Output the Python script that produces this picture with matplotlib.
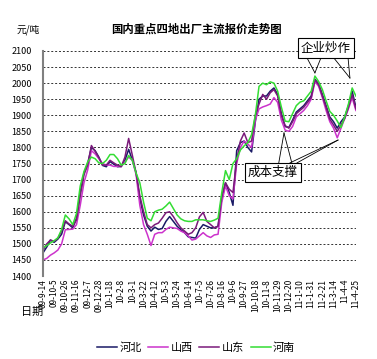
import matplotlib
matplotlib.use("Agg")
import matplotlib.pyplot as plt

plt.rcParams['font.family'] = ['Noto Sans CJK SC', 'DejaVu Sans']

# weekly quotes, 09-9-14 .. 11-4-25 (yuan/ton)
weeks = list(range(85))

hebei = [1472, 1490, 1512, 1505, 1515, 1530, 1569, 1560, 1550, 1580,
         1660, 1720, 1750, 1800, 1790, 1770, 1744, 1740, 1756, 1748,
         1740, 1741, 1760, 1794, 1760, 1722, 1640, 1590, 1555, 1540,
         1552, 1545, 1548, 1570, 1585, 1570, 1555, 1544, 1535, 1522,
         1520, 1518, 1545, 1560, 1555, 1550, 1550, 1555, 1640, 1690,
         1660, 1620, 1790, 1815, 1820, 1800, 1786, 1880, 1950, 1960,
         1960, 1975, 1985, 1965, 1905, 1865, 1862, 1885, 1910, 1920,
         1930, 1945, 1960, 2012, 1998, 1965, 1930, 1895, 1880, 1860,
         1880, 1895, 1930, 1975, 1925]

shanxi = [1450, 1455, 1465, 1472, 1481, 1500, 1544, 1545, 1546, 1560,
          1620, 1690, 1730, 1790, 1780, 1765, 1750, 1745, 1745, 1741,
          1741, 1741, 1755, 1770, 1760, 1715, 1620, 1560, 1530, 1495,
          1530, 1535, 1535, 1545, 1552, 1550, 1548, 1540, 1535, 1525,
          1512, 1515, 1525, 1535, 1525, 1520, 1528, 1530, 1630, 1680,
          1650, 1640, 1750, 1800, 1820, 1810, 1800, 1885, 1920, 1926,
          1930, 1935, 1955, 1940, 1885, 1854, 1850, 1865, 1895, 1905,
          1915, 1930, 1950, 2005, 1990, 1955, 1915, 1880, 1860, 1830,
          1860, 1890, 1920, 1955, 1915]

shandong = [1480, 1500, 1512, 1508, 1518, 1540, 1572, 1562, 1555, 1575,
            1650, 1715, 1745, 1806, 1788, 1768, 1745, 1745, 1760, 1752,
            1745, 1740, 1770, 1828, 1775, 1720, 1650, 1600, 1560, 1550,
            1560, 1565, 1580, 1597, 1600, 1585, 1566, 1550, 1540, 1530,
            1535, 1550, 1584, 1598, 1570, 1560, 1550, 1555, 1650, 1690,
            1670, 1660, 1760, 1820, 1845, 1815, 1820, 1900, 1935, 1965,
            1950, 1970, 1980, 1960, 1900, 1868, 1860, 1880, 1905, 1915,
            1925, 1940, 1955, 2010, 1995, 1960, 1925, 1888, 1870, 1850,
            1870, 1890, 1925, 1965, 1920]

henan = [1487, 1495, 1503, 1510, 1519, 1545, 1590, 1578, 1560, 1595,
         1680, 1725, 1755, 1770, 1765, 1752, 1750, 1760, 1778, 1778,
         1765, 1745, 1750, 1775, 1760, 1720, 1690, 1630, 1580, 1572,
         1600, 1605, 1608, 1618, 1630, 1610, 1590, 1578, 1572, 1570,
         1570, 1575, 1575, 1575, 1572, 1570, 1574, 1580, 1660, 1728,
         1700, 1750, 1765, 1792, 1805, 1815, 1840, 1900, 1990, 2000,
         1995, 2004, 2000, 1975, 1925, 1882, 1880, 1905, 1930, 1941,
         1945, 1960, 1975, 2022, 2005, 1980, 1945, 1912, 1900, 1882,
         1862, 1895, 1935, 1985, 1960]

tick_labels = ['09-9-14', '09-10-5', '09-10-26', '09-11-16', '09-12-7',
               '09-12-28', '10-1-18', '10-2-8', '10-3-1', '10-3-22',
               '10-4-12', '10-5-3', '10-5-24', '10-6-14', '10-7-5',
               '10-7-26', '10-8-16', '10-9-6', '10-9-27', '10-10-18',
               '10-11-8', '10-11-29', '10-12-20', '11-1-10', '11-1-31',
               '11-2-21', '11-3-14', '11-4-4', '11-4-25']
tick_pos = [3 * i for i in range(len(tick_labels))]

series = [('河北', hebei, '#1a1a66'),
          ('山西', shanxi, '#cc33cc'),
          ('山东', shandong, '#7a1a7a'),
          ('河南', henan, '#33dd33')]

fig = plt.figure(figsize=(3.77, 3.59), dpi=100)
fig.patch.set_facecolor('white')
ax = fig.add_axes([0.114, 0.231, 0.830, 0.627])

for name, vals, col in series:
    ax.plot(weeks, vals, color=col, lw=1.1, label=name)

ax.set_xlim(0, 84)
ax.set_ylim(1400, 2100)
ax.set_yticks(range(1400, 2101, 50))
ax.set_xticks(tick_pos)
ax.set_xticklabels(tick_labels, rotation=90, fontsize=6)
ax.tick_params(axis='y', labelsize=6.5, length=0, pad=8)
ax.tick_params(axis='x', length=0, pad=2)

# dotted horizontal grid
ax.yaxis.grid(True, color='#333333', linestyle=(0, (2, 2)), lw=0.7)
ax.set_axisbelow(True)
for s in ['top', 'right', 'bottom']:
    ax.spines[s].set_visible(False)
ax.spines['left'].set_color('#808080')
ax.spines['left'].set_linewidth(1.5)

fig.text(0.045, 0.91, '元/吨', fontsize=7)
fig.text(0.52, 0.91, '国内重点四地出厂主流报价走势图', fontsize=8.2,
         fontweight='bold', ha='center')
fig.text(0.055, 0.13, '日期', fontsize=8, ha='left', va='center')

# annotations
box = dict(boxstyle='square,pad=0.25', fc='white', ec='black', lw=0.8)
ax.text(76, 2109, '企业炒作', fontsize=9, ha='center', va='center',
        bbox=box, clip_on=False, zorder=5)
for x0, x1, y1 in [(70.9, 73, 2032), (74.6, 73, 2032),
                   (78.1, 82.4, 2016), (81.9, 82.4, 2016)]:
    ax.plot([x0, x1], [2078, y1], color='black', lw=0.6, clip_on=False)

ax.text(61.7, 1722, '成本支撑', fontsize=9, ha='center', va='center',
        bbox=box, zorder=5)
for x0, x1, y1 in [(63.3, 64.7, 1845), (66.8, 64.7, 1845),
                   (66.3, 79.2, 1823), (68.2, 79.2, 1823)]:
    ax.plot([x0, x1], [1752, y1], color='black', lw=0.6)

fig.legend(loc='lower center', ncol=4, frameon=False, fontsize=8,
           handlelength=1.8, handletextpad=0.2, columnspacing=0.6,
           bbox_to_anchor=(0.52, -0.01))

fig.savefig('out.png', dpi=100, facecolor='white')
